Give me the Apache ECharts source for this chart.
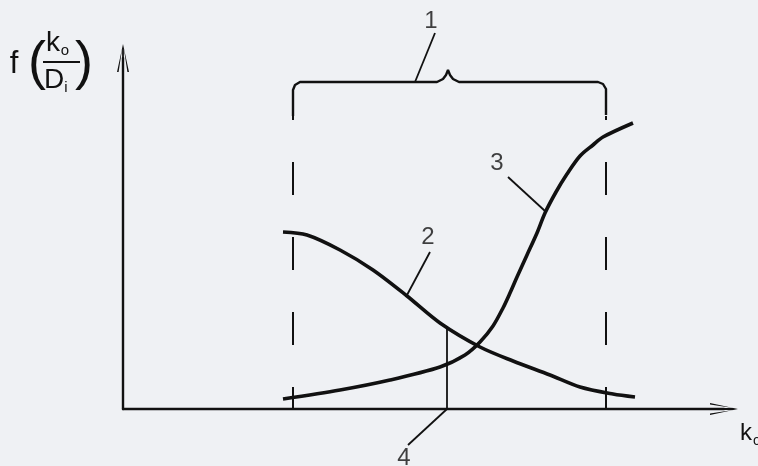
<!DOCTYPE html>
<html>
<head>
<meta charset="utf-8">
<script src="https://cdn.jsdelivr.net/npm/echarts@6/dist/echarts.min.js"></script>
<style>
  html, body { margin: 0; padding: 0; background: #eff1f4; }
  #chart { width: 758px; height: 466px; }
</style>
</head>
<body>
<div id="chart"></div>
<script>
// Дані (одиниці осей ~ пікселі від початку координат)

// крива 2 — спадна
const curve2X = [160, 184, 217, 250, 284, 317, 357, 390, 427, 457, 490, 512];
const curve2Y = [177, 174, 159, 139, 113, 86, 62, 48, 34, 22, 15, 12];

// крива 3 — зростаюча (S-подібна)
const curve3X = [160, 217, 267, 317, 342, 357, 370, 380, 387, 394, 404, 414, 422, 433, 444, 457, 470, 480, 510];
const curve3Y = [10, 19, 29, 42, 54, 67, 83, 101, 116, 132, 154, 176, 196, 217, 235, 253, 264, 272, 286];

// межі інтервалу (пунктир) та дужка 1
const boundLeft = 170;
const boundRight = 483;
const boundTop = 293;
const braceX = [170, 170, 172, 177, 314, 320, 323, 325, 327, 330, 336, 475, 480, 483, 483];
const braceY = [293, 319, 324, 327, 327, 330, 334, 339, 334, 330, 327, 327, 325, 320, 294];

// точка перетину — вертикаль 4
const optX = 324;
const optY = 83;

// виноски та номери
const calloutNames = ['1', '2', '3', '4'];
const calloutFrom = [[292, 327], [284, 114], [422, 198], [324, 0]];
const calloutTo = [[312, 376], [307, 157], [385, 232], [285, -36]];
const calloutText = [[308, 388], [305, 172], [374, 246], [281, -49]];

const INK = '#111111';
const FONT = '"Liberation Sans", Arial, sans-serif';
const arrowPath = 'path://M6,0 L12,28 L10.4,28 L6.9,5 L6.9,28 L5.1,28 L5.1,5 L1.6,28 L0,28 Z';

function zip(xs, ys) {
    return xs.map((x, i) => [x, ys[i]]);
}

function plainLine(data, width, extra) {
    return Object.assign({
        type: 'line',
        data: data,
        showSymbol: false,
        symbol: 'none',
        clip: false,
        silent: true,
        lineStyle: { color: INK, width: width }
    }, extra || {});
}

const chart = echarts.init(document.getElementById('chart'));

const series = [
    plainLine(zip(curve2X, curve2Y), 3.6, { smooth: 0.3 }),
    plainLine(zip(curve3X, curve3Y), 3.6, { smooth: 0.3 }),
    plainLine([[boundLeft, 0], [boundLeft, boundTop]], 2, {
        lineStyle: { color: INK, width: 2, type: [33, 42], dashOffset: 11 }
    }),
    plainLine([[boundRight, 0], [boundRight, boundTop]], 2, {
        lineStyle: { color: INK, width: 2, type: [33, 42], dashOffset: 11 }
    }),
    plainLine(zip(braceX, braceY), 2.4),
    plainLine([[optX, 0], [optX, optY]], 1.8)
];

calloutFrom.forEach((p, i) => {
    series.push(plainLine([p, calloutTo[i]], 1.8));
});

series.push({
    type: 'scatter',
    data: calloutText,
    symbolSize: 0,
    clip: false,
    silent: true,
    label: {
        show: true,
        position: 'inside',
        formatter: p => calloutNames[p.dataIndex],
        color: INK,
        fontSize: 24,
        fontFamily: FONT
    }
});

const option = {
    backgroundColor: '#eff1f4',
    animation: false,
    grid: { left: 123, right: 34, top: 58, bottom: 57 },
    xAxis: {
        type: 'value',
        min: 0,
        max: 601,
        axisLine: {
            show: true,
            symbol: ['none', arrowPath],
            symbolSize: [12, 28],
            lineStyle: { color: INK, width: 2.4 }
        },
        axisTick: { show: false },
        axisLabel: { show: false },
        splitLine: { show: false }
    },
    yAxis: {
        type: 'value',
        min: 0,
        max: 351,
        axisLine: {
            show: true,
            symbol: ['none', arrowPath],
            symbolSize: [12, 28],
            lineStyle: { color: INK, width: 2.4 }
        },
        axisTick: { show: false },
        axisLabel: { show: false },
        splitLine: { show: false }
    },
    graphic: [
        // підпис осі Y: f(k0/Di)
        { type: 'text', x: 14, y: 64, style: { text: 'f', font: '31px ' + FONT, fill: INK, align: 'center', verticalAlign: 'middle' } },
        { type: 'text', x: 37, y: 64, style: { text: '(', font: '54px ' + FONT, fill: INK, align: 'center', verticalAlign: 'middle' } },
        { type: 'text', x: 53, y: 43, style: { text: 'k', font: '28px ' + FONT, fill: INK, align: 'center', verticalAlign: 'middle' } },
        { type: 'text', x: 65, y: 51, style: { text: 'o', font: '15px ' + FONT, fill: INK, align: 'center', verticalAlign: 'middle' } },
        { type: 'line', shape: { x1: 43, y1: 62, x2: 80, y2: 62 }, style: { stroke: INK, lineWidth: 2 } },
        { type: 'text', x: 54, y: 80, style: { text: 'D', font: '28px ' + FONT, fill: INK, align: 'center', verticalAlign: 'middle' } },
        { type: 'text', x: 66, y: 88, style: { text: 'i', font: '15px ' + FONT, fill: INK, align: 'center', verticalAlign: 'middle' } },
        { type: 'text', x: 84, y: 64, style: { text: ')', font: '54px ' + FONT, fill: INK, align: 'center', verticalAlign: 'middle' } },
        // підпис осі X: k0
        { type: 'text', x: 746, y: 433, style: { text: 'k', font: '24px ' + FONT, fill: INK, align: 'center', verticalAlign: 'middle' } },
        { type: 'text', x: 757, y: 441, style: { text: 'o', font: '14px ' + FONT, fill: INK, align: 'center', verticalAlign: 'middle' } }
    ],
    series: series
};

chart.setOption(option);

window.addEventListener('resize', () => {
    chart.resize();
});
</script>
</body>
</html>
